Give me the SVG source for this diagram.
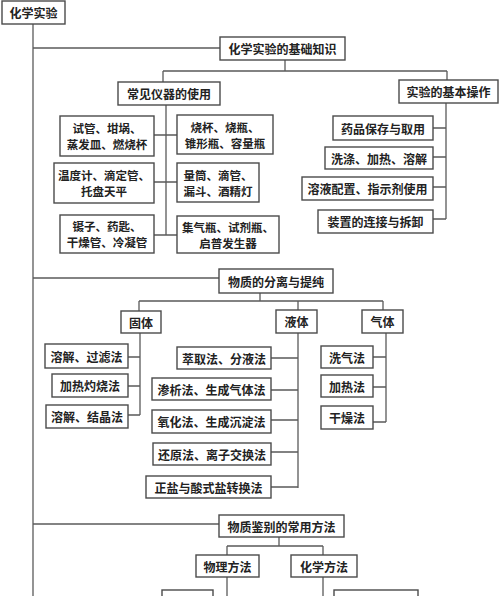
<svg xmlns="http://www.w3.org/2000/svg" width="500" height="596" viewBox="0 0 500 596">
<style>
.b{fill:#fff;stroke:#4a4a4a;stroke-width:1.4}
.c{fill:none;stroke:#5a5a5a;stroke-width:1.3}
.t{font-family:"Noto Sans CJK SC","Noto Sans",sans-serif;font-weight:bold;font-size:12px;fill:#222;text-anchor:middle;dominant-baseline:central}
.s{font-size:11.5px}
</style>
<rect width="500" height="596" fill="#fff"/>
<g id="connectors">
<path class="c" d="M33 24V596"/>
<path class="c" d="M33 48H220"/>
<path class="c" d="M285 60V71M163 71H447M163 71V82M447 71V80"/>
<path class="c" d="M166 105V235M154 135H177M154 182H177M154 235H177"/>
<path class="c" d="M446 103V219M433 128H446M433 157H446M433 187H446M433 219H446"/>
<path class="c" d="M33 278H219"/>
<path class="c" d="M260 293V301M139 301H383M139 301V311M298 301V310M383 301V310"/>
<path class="c" d="M140 333V415M128 357H140M128 386H140M128 415H140"/>
<path class="c" d="M298 333V488M271 358H298M271 390H298M271 420H298M271 452H298M271 487H298"/>
<path class="c" d="M386 333V422M373 357H386M373 387H386M373 422H386"/>
<path class="c" d="M33 524H219"/>
<path class="c" d="M279 537V546M227 546H323M227 546V555M323 546V555"/>
<path class="c" d="M227 577V596M323 577V596"/>
</g>
<g id="root"><rect class="b" x="2" y="1" width="63" height="23"/><text class="t" x="33.5" y="12.5">化学实验</text></g>
<g id="jichu"><rect class="b" x="220" y="37" width="125" height="23"/><text class="t" x="282.5" y="48.5">化学实验的基础知识</text></g>
<g id="yiqi"><rect class="b" x="118" y="82" width="102" height="23"/><text class="t" x="169" y="93.5">常见仪器的使用</text></g>
<g id="caozuo"><rect class="b" x="399" y="80" width="99" height="23"/><text class="t" x="448.5" y="91.5">实验的基本操作</text></g>
<g id="y1"><rect class="b" x="60" y="116" width="94" height="40"/><text class="t s" x="107" y="127.5">试管、坩埚、</text><text class="t s" x="107" y="144">蒸发皿、燃烧杯</text></g>
<g id="y2"><rect class="b" x="54" y="163" width="100" height="40"/><text class="t s" x="104" y="174.5">温度计、滴定管、</text><text class="t s" x="104" y="191">托盘天平</text></g>
<g id="y3"><rect class="b" x="60" y="215" width="94" height="38"/><text class="t s" x="107" y="226">镊子、药匙、</text><text class="t s" x="107" y="242">干燥管、冷凝管</text></g>
<g id="y4"><rect class="b" x="177" y="115" width="96" height="39"/><text class="t s" x="225" y="126.5">烧杯、烧瓶、</text><text class="t s" x="225" y="143">锥形瓶、容量瓶</text></g>
<g id="y5"><rect class="b" x="177" y="163" width="82" height="39"/><text class="t s" x="218" y="174.5">量筒、滴管、</text><text class="t s" x="218" y="191">漏斗、酒精灯</text></g>
<g id="y6"><rect class="b" x="177" y="216" width="102" height="37"/><text class="t s" x="228" y="227">集气瓶、试剂瓶、</text><text class="t s" x="228" y="243">启普发生器</text></g>
<g id="c1"><rect class="b" x="333" y="116" width="100" height="24"/><text class="t" x="383" y="128">药品保存与取用</text></g>
<g id="c2"><rect class="b" x="325" y="147" width="108" height="22"/><text class="t" x="379" y="158">洗涤、加热、溶解</text></g>
<g id="c3"><rect class="b" x="302" y="177" width="131" height="23"/><text class="t" x="367.5" y="188.5">溶液配置、指示剂使用</text></g>
<g id="c4"><rect class="b" x="318" y="210" width="115" height="23"/><text class="t" x="375.5" y="221.5">装置的连接与拆卸</text></g>
<g id="fenli"><rect class="b" x="219" y="269" width="114" height="24"/><text class="t" x="276" y="281">物质的分离与提纯</text></g>
<g id="guti"><rect class="b" x="121" y="311" width="40" height="22"/><text class="t" x="141" y="322">固体</text></g>
<g id="yeti"><rect class="b" x="276" y="310" width="41" height="23"/><text class="t" x="296.5" y="321.5">液体</text></g>
<g id="qiti"><rect class="b" x="362" y="310" width="41" height="23"/><text class="t" x="382.5" y="321.5">气体</text></g>
<g id="g1"><rect class="b" x="45" y="344" width="83" height="24"/><text class="t" x="86.5" y="356">溶解、过滤法</text></g>
<g id="g2"><rect class="b" x="52" y="374" width="76" height="23"/><text class="t" x="90" y="385.5">加热灼烧法</text></g>
<g id="g3"><rect class="b" x="46" y="405" width="82" height="23"/><text class="t" x="87" y="416.5">溶解、结晶法</text></g>
<g id="l1"><rect class="b" x="177" y="347" width="94" height="22"/><text class="t" x="224" y="358">萃取法、分液法</text></g>
<g id="l2"><rect class="b" x="152" y="378" width="119" height="22"/><text class="t" x="211.5" y="389">渗析法、生成气体法</text></g>
<g id="l3"><rect class="b" x="152" y="410" width="119" height="23"/><text class="t" x="211.5" y="421.5">氧化法、生成沉淀法</text></g>
<g id="l4"><rect class="b" x="153" y="443" width="118" height="22"/><text class="t" x="212" y="454">还原法、离子交换法</text></g>
<g id="l5"><rect class="b" x="146" y="476" width="125" height="22"/><text class="t" x="208.5" y="487">正盐与酸式盐转换法</text></g>
<g id="q1"><rect class="b" x="321" y="346" width="52" height="22"/><text class="t" x="347" y="357">洗气法</text></g>
<g id="q2"><rect class="b" x="321" y="375" width="52" height="22"/><text class="t" x="347" y="386">加热法</text></g>
<g id="q3"><rect class="b" x="321" y="406" width="52" height="23"/><text class="t" x="347" y="417.5">干燥法</text></g>
<g id="jianbie"><rect class="b" x="219" y="515" width="125" height="22"/><text class="t" x="281.5" y="526">物质鉴别的常用方法</text></g>
<g id="wuli"><rect class="b" x="196" y="555" width="63" height="22"/><text class="t" x="227.5" y="566">物理方法</text></g>
<g id="huaxue"><rect class="b" x="291" y="555" width="66" height="22"/><text class="t" x="324" y="566">化学方法</text></g>
<g id="w1"><rect class="b" x="162" y="590" width="51" height="24"/></g>
<g id="h1"><rect class="b" x="334" y="590" width="84" height="24"/></g>
</svg>
